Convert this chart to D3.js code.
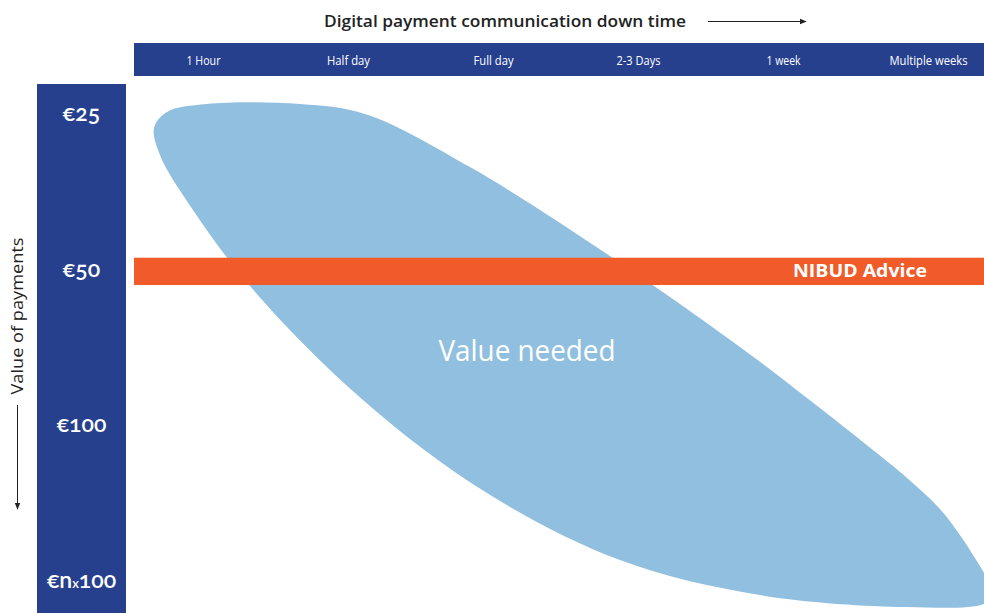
<!DOCTYPE html>
<html>
<head>
<meta charset="utf-8">
<script src="https://cdn.jsdelivr.net/npm/d3@7"></script>
<style>
  html, body { margin: 0; padding: 0; background: #fff; }
  svg { display: block; }
</style>
</head>
<body>
<div id="chart"></div>
<script>
// categories
var timeLabels = ["1 Hour", "Half day", "Full day", "2-3 Days", "1 week", "Multiple weeks"];
var valueLabels = ["€25", "€50", "€100", "€nx100"];

// outline of the "value needed" area, x in time steps, y in value steps
var blobX = [0.159, 0.248, 0.524, 1.166, 1.614, 2.338, 3.324, 4.200, 4.662, 5.117, 5.352, 5.579, 5.731, 5.883, 5.966,
             5.883, 5.352, 4.338, 3.372, 2.455, 1.600, 0.821, 0.372, 0.200];
var blobY = [0.597, 0.494, 0.443, 0.443, 0.507, 0.848, 1.432, 2.003, 2.331, 2.665, 2.844, 3.043, 3.230, 3.454, 3.589,
             3.653, 3.673, 3.596, 3.371, 2.941, 2.343, 1.612, 1.047, 0.770];

// NIBUD advice band, in value steps
var adviceBand = [1.43, 1.605];

var width = 984, height = 613;
var darkBlue = "#26408e", orange = "#f15a29", lightBlue = "#91bfe0";

var svg = d3.select("#chart").append("svg")
    .attr("width", width)
    .attr("height", height);

var x = d3.scaleLinear().domain([0, timeLabels.length]).range([131, 1001]);
var y = d3.scaleLinear().domain([0, valueLabels.length]).range([35, 658]);
var xBand = d3.scaleBand().domain(timeLabels).range(x.range());
var yBand = d3.scaleBand().domain(valueLabels).range(y.range());

var defs = svg.append("defs");
defs.append("marker")
    .attr("id", "arrow")
    .attr("viewBox", "0 0 10 10")
    .attr("refX", 9).attr("refY", 5)
    .attr("markerWidth", 7).attr("markerHeight", 7)
    .attr("markerUnits", "userSpaceOnUse")
    .attr("orient", "auto")
    .append("path")
    .attr("d", "M0,1L10,5L0,9Z")
    .attr("fill", "#222");

// value needed area
var points = blobX.map(function (d, i) { return [x(d), y(blobY[i])]; });
svg.append("path")
    .attr("d", d3.line().curve(d3.curveCatmullRomClosed.alpha(0.5))(points))
    .attr("fill", lightBlue);

svg.append("text")
    .attr("x", 527).attr("y", 361)
    .attr("text-anchor", "middle")
    .attr("fill", "#fff")
    .attr("font-family", "'Open Sans', sans-serif")
    .attr("font-size", 29)
    .attr("textLength", 177)
    .attr("lengthAdjust", "spacingAndGlyphs")
    .text("Value needed");

// advice band
svg.append("rect")
    .attr("x", 134)
    .attr("y", y(adviceBand[0]))
    .attr("width", width - 134)
    .attr("height", y(adviceBand[1]) - y(adviceBand[0]))
    .attr("fill", orange);

svg.append("text")
    .attr("x", 927).attr("y", 277)
    .attr("text-anchor", "end")
    .attr("fill", "#fff")
    .attr("font-family", "'Open Sans', sans-serif")
    .attr("font-weight", "bold")
    .attr("font-size", 17)
    .attr("textLength", 134)
    .attr("lengthAdjust", "spacingAndGlyphs")
    .text("NIBUD Advice");

// top time bar
svg.append("rect")
    .attr("x", 134).attr("y", 43)
    .attr("width", width - 134).attr("height", 33)
    .attr("fill", darkBlue);

var timeWidths = [34, 43, 40, 44, 34, 78];
svg.selectAll(".time-label")
    .data(timeLabels)
    .enter().append("text")
    .attr("class", "time-label")
    .attr("x", function (d) { return xBand(d) + xBand.bandwidth() / 2; })
    .attr("y", 65)
    .attr("text-anchor", "middle")
    .attr("fill", "#fff")
    .attr("font-family", "'Open Sans', sans-serif")
    .attr("font-size", 13)
    .attr("textLength", function (d, i) { return timeWidths[i]; })
    .attr("lengthAdjust", "spacingAndGlyphs")
    .text(function (d) { return d; });

svg.append("text")
    .attr("x", 505).attr("y", 27)
    .attr("text-anchor", "middle")
    .attr("fill", "#222")
    .attr("font-family", "'Open Sans', sans-serif")
    .attr("font-weight", 600)
    .attr("font-size", 16)
    .attr("textLength", 362)
    .attr("lengthAdjust", "spacingAndGlyphs")
    .text("Digital payment communication down time");

svg.append("line")
    .attr("x1", 708).attr("y1", 21.5)
    .attr("x2", 806).attr("y2", 21.5)
    .attr("stroke", "#222")
    .attr("stroke-width", 1)
    .attr("marker-end", "url(#arrow)");

// left value bar
svg.append("rect")
    .attr("x", 37).attr("y", 84)
    .attr("width", 89).attr("height", height - 84)
    .attr("fill", darkBlue);

var valueText = svg.selectAll(".value-label")
    .data(valueLabels)
    .enter().append("text")
    .attr("class", "value-label")
    .attr("x", 81.5)
    .attr("y", function (d) { return yBand(d) + yBand.bandwidth() / 2 + 8; })
    .attr("text-anchor", "middle")
    .attr("fill", "#fff")
    .attr("font-family", "Lato, 'Open Sans', sans-serif")
    .attr("font-weight", 600)
    .attr("font-size", 23)
    .style("font-variant-numeric", "oldstyle-nums");

valueText.each(function (d) {
    var t = d3.select(this);
    if (d.indexOf("x") > 0) {
        var parts = d.split("x");
        t.append("tspan").text(parts[0]);
        t.append("tspan").attr("font-size", 13).text("x");
        t.append("tspan").text(parts[1]);
    } else {
        t.text(d);
    }
});

svg.append("text")
    .attr("transform", "translate(23,316) rotate(-90)")
    .attr("text-anchor", "middle")
    .attr("fill", "#222")
    .attr("font-family", "'Open Sans', sans-serif")
    .attr("font-size", 16)
    .attr("textLength", 157)
    .attr("lengthAdjust", "spacingAndGlyphs")
    .text("Value of payments");

svg.append("line")
    .attr("x1", 17.5).attr("y1", 405)
    .attr("x2", 17.5).attr("y2", 509)
    .attr("stroke", "#222")
    .attr("stroke-width", 1)
    .attr("marker-end", "url(#arrow)");
</script>
</body>
</html>
